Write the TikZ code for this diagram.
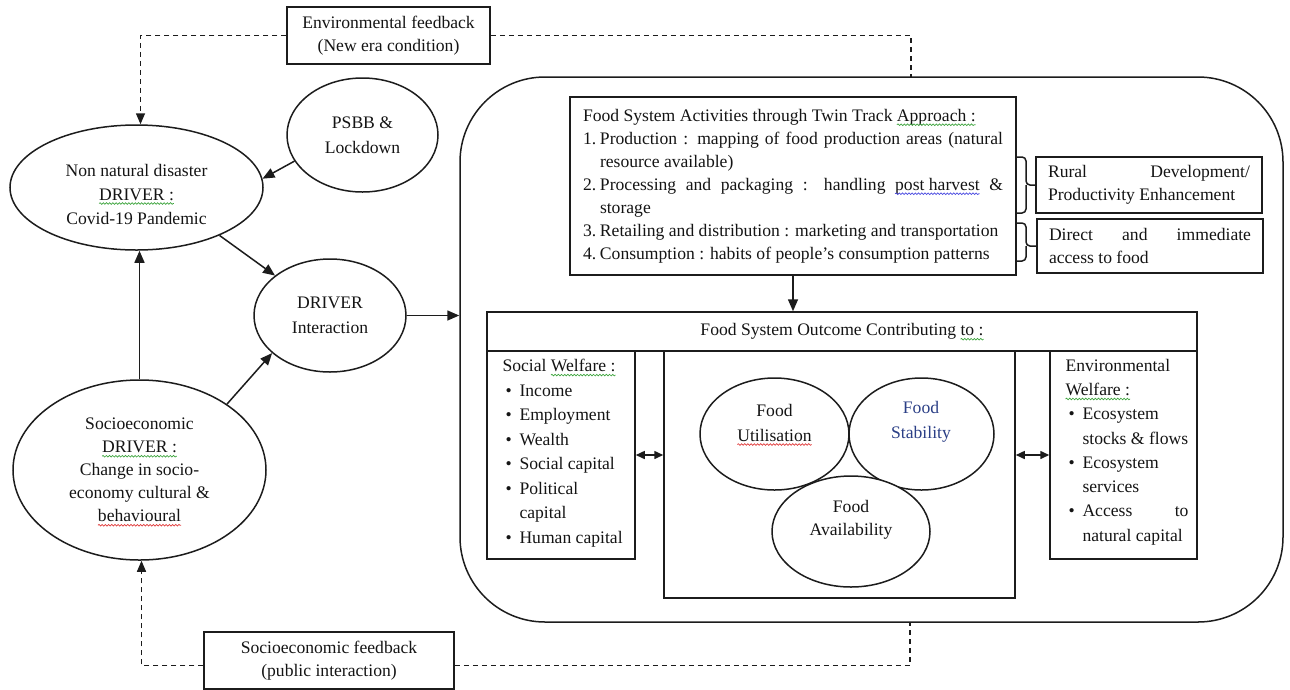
\documentclass[tikz,border=0pt]{standalone}
\usepackage{fontspec}
\setmainfont{Liberation Serif}
\usetikzlibrary{shapes.geometric,arrows.meta,decorations.pathmorphing}
\definecolor{ink}{HTML}{141414}
\definecolor{ln}{HTML}{1C1C1C}
\definecolor{stab}{HTML}{2B3F86}
\definecolor{sqG}{HTML}{3FA53F}
\definecolor{sqR}{HTML}{E03A3A}
\definecolor{sqB}{HTML}{4A4AE0}
\newlength\sqlen
\newcommand\sq[2]{\settowidth\sqlen{#2}\rlap{#2}\tikz[baseline=0pt,x=1pt,y=1pt]{\useasboundingbox (0pt,0pt) rectangle (\sqlen,0.1pt); \draw[#1, line width=0.7pt, decorate, decoration={snake, amplitude=0.8pt, segment length=3.2pt}] (0pt,-3.5pt) -- (\sqlen,-3.5pt);}}
\begin{document}
\begin{tikzpicture}[x=1pt,y=-1pt,
  every node/.style={text=ink, font=\fontsize{17.6}{23}\selectfont},
  ell/.style={draw=ln, line width=1.5pt, ellipse, inner sep=0pt, align=center},
  box/.style={draw=ln, line width=1.5pt, rectangle, inner sep=0pt, align=center},
  arr/.style={draw=ln, line width=1.5pt, -{Triangle[length=12pt,width=10pt]}},
  darr/.style={draw=ln, line width=1.5pt, {Triangle[length=9pt,width=8pt]}-{Triangle[length=9pt,width=8pt]}},
  fb/.style={draw=ln, line width=1.5pt, dash pattern=on 5pt off 4pt},
  brc/.style={draw=ln, line width=1.5pt, rounded corners=4pt}
]
\useasboundingbox (0,0) rectangle (1290,689);

% ---------- feedback boxes ----------
\node[box, minimum width=203pt, minimum height=57pt] (efb) at (388.5,35.5) {Environmental feedback\\(New era condition)};
\node[box, minimum width=250pt, minimum height=57pt] (sfb) at (329,660.5) {Socioeconomic feedback\\(public interaction)};

% ---------- drivers ----------
\node[ell, minimum width=253pt, minimum height=125pt] (nn) at (136.5,187.5) {};
\node[align=center, font=\fontsize{17.6}{24}\selectfont] (nnT) at (136.5,194) {Non natural disaster\\\sq{sqG}{DRIVER :}\\Covid-19 Pandemic};
\node[ell, minimum width=151pt, minimum height=114pt, font=\fontsize{17.6}{25}\selectfont] (psbb) at (362.5,135) {PSBB \&\\Lockdown};
\node[ell, minimum width=152pt, minimum height=113pt, font=\fontsize{17.6}{25}\selectfont] (drv) at (330,315.5) {DRIVER\\Interaction};
\node[ell, minimum width=253pt, minimum height=180pt] (soc) at (139.5,470) {Socioeconomic\\\sq{sqG}{DRIVER :}\\Change in socio-\\economy cultural \&\\\sq{sqR}{behavioural}};

% ---------- main rounded frame ----------
\node[draw=ln, line width=1.5pt, rounded corners=85pt, minimum width=823pt, minimum height=545pt, inner sep=0pt] (main) at (871.5,349.5) {};
\coordinate (mtop) at (911,77);
\coordinate (mbot) at (910,622);

% ---------- activities ----------
\node[box, minimum width=446pt, minimum height=178pt] (act) at (793,186) {%
\begin{minipage}{420pt}\setlength{\parindent}{0pt}\fontsize{17.6}{23}\selectfont
Food System Activities through Twin Track \sq{sqG}{Approach :}\\
\makebox[17pt][l]{1.}\makebox[403pt][s]{Production : mapping of food production areas (natural}\\
\hspace*{17pt}resource available)\\
\makebox[17pt][l]{2.}\makebox[403pt][s]{Processing and packaging : handling \sq{sqB}{post harvest} \&}\\
\hspace*{17pt}storage\\
\makebox[17pt][l]{3.}Retailing and distribution : marketing and transportation\\
\makebox[17pt][l]{4.}Consumption : habits of people's consumption patterns
\end{minipage}};

\node[box, minimum width=226pt, minimum height=56pt, align=left] (rd) at (1149,185) {\makebox[202pt][s]{Rural Development/}\\Productivity Enhancement};
\node[box, minimum width=226pt, minimum height=54pt, align=left] (da) at (1150,246) {\makebox[202pt][s]{Direct and immediate}\\access to food};

\draw[brc] (1016,157) -| (1026,185) -- (rd.west);
\draw[brc] (1016,213) -| (1026,185);
\draw[brc] (1016,223) -| (1026,246) -- (da.west);
\draw[brc] (1016,261) -| (1026,246);

% ---------- outcome ----------
\node[box, minimum width=710pt, minimum height=39pt] (out) at (842,331.5) {Food System Outcome Contributing \sq{sqG}{to :}};
\node[box, minimum width=148pt, minimum height=208pt] (sw) at (561,455) {};
\node[box, minimum width=351pt, minimum height=247pt] (cb) at (839.5,474.5) {};
\node[box, minimum width=147pt, minimum height=208pt] (ew) at (1123.5,455) {};

\node[anchor=west, align=left, font=\fontsize{17.6}{24.5}\selectfont] (swT) at (499,453) {Social \sq{sqG}{Welfare :}\\
\hspace*{3pt}\makebox[14pt][l]{\textbullet}Income\\
\hspace*{3pt}\makebox[14pt][l]{\textbullet}Employment\\
\hspace*{3pt}\makebox[14pt][l]{\textbullet}Wealth\\
\hspace*{3pt}\makebox[14pt][l]{\textbullet}Social capital\\
\hspace*{3pt}\makebox[14pt][l]{\textbullet}Political\\
\hspace*{17pt}capital\\
\hspace*{3pt}\makebox[14pt][l]{\textbullet}Human capital};

\node[anchor=west, align=left, font=\fontsize{17.6}{24.3}\selectfont] (ewT) at (1062,452) {Environmental\\
\sq{sqG}{Welfare :}\\
\hspace*{3pt}\makebox[14pt][l]{\textbullet}Ecosystem\\
\hspace*{17pt}stocks \& flows\\
\hspace*{3pt}\makebox[14pt][l]{\textbullet}Ecosystem\\
\hspace*{17pt}services\\
\hspace*{3pt}\makebox[14pt][l]{\textbullet}\makebox[106pt][s]{Access to}\\
\hspace*{17pt}natural capital};

\node[ell, minimum width=149pt, minimum height=112pt] (fu) at (774.5,434) {};
\node[ell, minimum width=145pt, minimum height=112pt] (fs) at (921.5,434) {};
\node[ell, minimum width=158pt, minimum height=111pt, fill=white] (fa) at (851,531.5) {};
\node[align=center, font=\fontsize{17.6}{25}\selectfont] (fuT) at (774.5,422.5) {Food\\\sq{sqR}{Utilisation}};
\node[align=center, text=stab, font=\fontsize{17.6}{25}\selectfont] (fsT) at (921,422) {Food\\Stability};
\node[align=center, font=\fontsize{17.6}{23}\selectfont] (faT) at (851,519.5) {Food\\Availability};

% ---------- connectors ----------
\draw[arr] (psbb.201) -- (nn.4);
\draw[arr] (nn.-30) -- (drv.144);
\draw[arr] (soc.north) -- (soc.north |- nn.south);
\draw[arr] (soc.37) -- (drv.213);
\draw[arr] (drv.east) -- (drv.east -| main.west);
\draw[arr] (act.south) -- (act.south |- out.north);
\draw[darr] (sw.east) -- (sw.east -| cb.west);
\draw[darr] (cb.east |- ew.west) -- (ew.west);

\draw[fb, -{Triangle[length=11pt,width=9pt]}] (efb.west) -| ([xshift=4pt]nn.north);
\draw[fb] (efb.east) -| (mtop);
\draw[fb, -{Triangle[length=11pt,width=9pt]}] ([yshift=-5pt]sfb.west) -| ([xshift=2pt]soc.south);
\draw[fb] ([yshift=-5pt]sfb.east) -| (mbot);
\end{tikzpicture}
\end{document}
